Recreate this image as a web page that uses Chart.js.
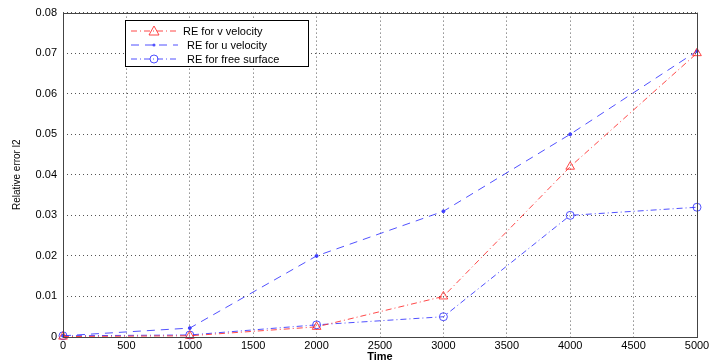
<!DOCTYPE html>
<html>
<head>
<meta charset="utf-8">
<script src="https://cdn.jsdelivr.net/npm/chart.js@4"></script>
<style>
  html, body { margin: 0; padding: 0; background: #fff; }
  #wrap { width: 712px; height: 364px; }
</style>
</head>
<body>
<div id="wrap"><canvas id="myChart" width="712" height="364"></canvas></div>
<script>
const times = [0, 1000, 2000, 3000, 4000, 5000]
const reV = [0.0001, 0.0003, 0.0025, 0.010, 0.042, 0.070]
const reU = [0.0003, 0.0022, 0.020, 0.031, 0.050, 0.0705]
const reSurface = [0.0003, 0.0005, 0.003, 0.005, 0.030, 0.032]
const seriesNames = ["RE for v velocity", "RE for u velocity", "RE for free surface"]

const red = 'rgba(255, 40, 40, 0.85)'
const blue = 'rgba(50, 50, 255, 0.85)'
const font = "Arial, 'Liberation Sans', sans-serif"

// frame around the plot and the boxed legend in the upper left
const framePlugin = {
  id: 'frame',
  afterDraw(chart) {
    const c = chart.ctx
    const a = chart.chartArea
    c.save()
    c.strokeStyle = '#444'
    c.lineWidth = 1
    c.setLineDash([])
    c.strokeRect(Math.round(a.left) + 0.5, Math.round(a.top) + 0.5, Math.round(a.right - a.left), Math.round(a.bottom - a.top))

    const bx = 125, by = 20, bw = 183, bh = 46
    c.fillStyle = '#fff'
    c.fillRect(bx, by, bw, bh)
    c.strokeStyle = '#000'
    c.strokeRect(bx + 0.5, by + 0.5, bw, bh)

    c.font = '11px ' + font
    c.textBaseline = 'middle'
    chart.data.datasets.forEach((ds, i) => {
      const y = by + 11 + i * 14
      c.strokeStyle = ds.borderColor
      c.lineWidth = 1
      c.setLineDash(ds.borderDash)
      c.beginPath()
      c.moveTo(131, y)
      c.lineTo(178, y)
      c.stroke()
      c.setLineDash([])
      const cx = 154
      if (ds.pointStyle === 'triangle') {
        c.beginPath()
        c.moveTo(cx, y - 5)
        c.lineTo(cx + 5, y + 4)
        c.lineTo(cx - 5, y + 4)
        c.closePath()
        c.stroke()
      } else if (ds.pointRadius > 3) {
        c.beginPath()
        c.arc(cx, y, 4, 0, Math.PI * 2)
        c.stroke()
      } else {
        c.fillStyle = ds.borderColor
        c.beginPath()
        c.arc(cx, y, 1.5, 0, Math.PI * 2)
        c.fill()
      }
      c.fillStyle = '#000'
      c.fillText(ds.label, i === 0 ? 183 : 187, y + 1)
    })
    c.restore()
  }
}

new Chart(document.getElementById('myChart'), {
  type: 'line',
  data: {
    datasets: [{
      label: seriesNames[0],
      data: times.map((t, i) => ({ x: t, y: reV[i] })),
      borderColor: red,
      borderWidth: 1,
      borderDash: [6, 3, 1, 3],
      pointStyle: 'triangle',
      pointRadius: 5,
      pointBorderColor: red,
      pointBackgroundColor: 'rgba(0,0,0,0)',
      tension: 0
    }, {
      label: seriesNames[1],
      data: times.map((t, i) => ({ x: t, y: reU[i] })),
      borderColor: blue,
      borderWidth: 1,
      borderDash: [8, 6],
      pointStyle: 'circle',
      pointRadius: 1.5,
      pointBorderColor: blue,
      pointBackgroundColor: blue,
      tension: 0
    }, {
      label: seriesNames[2],
      data: times.map((t, i) => ({ x: t, y: reSurface[i] })),
      borderColor: blue,
      borderWidth: 1,
      borderDash: [6, 3, 1, 3],
      pointStyle: 'circle',
      pointRadius: 4,
      pointBorderColor: blue,
      pointBackgroundColor: 'rgba(0,0,0,0)',
      tension: 0
    }]
  },
  options: {
    responsive: false,
    animation: false,
    clip: false,
    layout: { padding: { top: 8, right: 15, left: 0, bottom: 0 } },
    plugins: {
      legend: { display: false },
      tooltip: { enabled: false }
    },
    scales: {
      x: {
        type: 'linear',
        min: 0,
        max: 5000,
        afterFit(scale) { scale.height = 27 },
        ticks: {
          stepSize: 500,
          color: '#000',
          padding: 2,
          maxRotation: 0,
          font: { family: font, size: 11 },
          callback: (v) => String(v)
        },
        grid: { color: '#555', drawTicks: false, lineWidth: 1 },
        border: { display: false, dash: [1, 3] },
        title: {
          display: true,
          text: 'Time',
          color: '#000',
          padding: 0,
          font: { family: font, size: 11, weight: 'bold' }
        }
      },
      y: {
        min: 0,
        max: 0.08,
        afterFit(scale) { scale.width = 63 },
        ticks: {
          stepSize: 0.01,
          color: '#000',
          padding: 6,
          font: { family: font, size: 11 },
          callback: (v) => String(+v.toFixed(2))
        },
        grid: { color: '#555', drawTicks: false, lineWidth: 1 },
        border: { display: false, dash: [1, 3] },
        title: {
          display: true,
          text: 'Relative error l2',
          color: '#000',
          padding: { top: 11, bottom: 0 },
          font: { family: font, size: 10 }
        }
      }
    }
  },
  plugins: [framePlugin]
})
</script>
</body>
</html>
